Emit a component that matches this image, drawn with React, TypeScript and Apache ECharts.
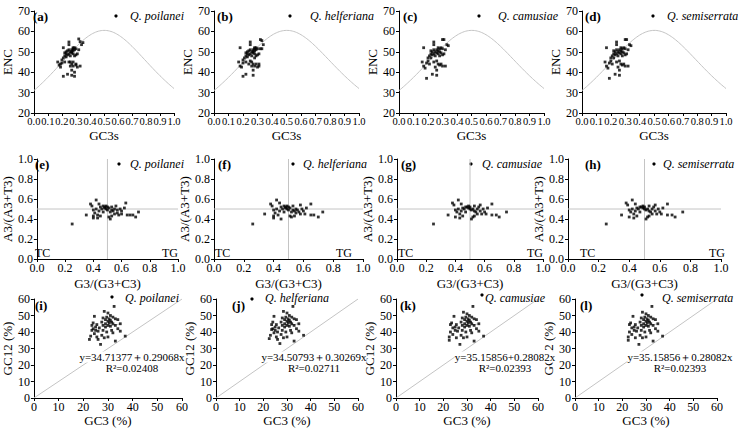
import React, { useEffect, useRef } from "react";
import * as echarts from "echarts";

// ---------------- data ----------------
const species = ["Q. poilanei", "Q. helferiana", "Q. camusiae", "Q. semiserrata"];
const encPanelTags = ["(a)", "(b)", "(c)", "(d)"];
const pr2PanelTags = ["(e)", "(f)", "(g)", "(h)"];
const neuPanelTags = ["(i)", "(j)", "(k)", "(l)"];

const encXTicks = [0, 0.1, 0.2, 0.3, 0.4, 0.5, 0.6, 0.7, 0.8, 0.9, 1.0];
const encYTicks = [20, 30, 40, 50, 60, 70];
const pr2Ticks = [0, 0.2, 0.4, 0.6, 0.8, 1.0];
const neuTicks = [0, 10, 20, 30, 40, 50, 60];

// ENC plot: [GC3s, ENC]
const encA = [
  [0.17, 45], [0.18, 43.5], [0.19, 44], [0.19, 42.5], [0.2, 46], [0.2, 44.5], [0.21, 52], [0.21, 47], [0.21, 38],
  [0.22, 45], [0.22, 48], [0.22, 49.5], [0.23, 47.5], [0.23, 49], [0.23, 50], [0.24, 48.5], [0.24, 50.5], [0.24, 39],
  [0.25, 54.8], [0.25, 53.5], [0.25, 49], [0.25, 51], [0.25, 45], [0.26, 50], [0.26, 48], [0.26, 45], [0.26, 43],
  [0.27, 49.5], [0.27, 51], [0.27, 50], [0.27, 44], [0.27, 41], [0.27, 38.5], [0.28, 51.5], [0.28, 50.5], [0.28, 49],
  [0.28, 52], [0.28, 45], [0.28, 43], [0.29, 51], [0.29, 52], [0.29, 48], [0.29, 40], [0.29, 38], [0.3, 51.5],
  [0.3, 48.5], [0.3, 44], [0.3, 43.5], [0.31, 49], [0.31, 42.5], [0.32, 56.3], [0.32, 51], [0.33, 55], [0.33, 43],
  [0.34, 53.5], [0.35, 54.5],
];
const encB = [
  [0.17, 45], [0.18, 43], [0.18, 52], [0.19, 42.5], [0.2, 46], [0.2, 44.5], [0.2, 38], [0.21, 47], [0.22, 39],
  [0.22, 45], [0.22, 48], [0.22, 49.5], [0.23, 47.5], [0.23, 49], [0.23, 50], [0.24, 48.5], [0.24, 50.5], [0.24, 44],
  [0.25, 54.8], [0.25, 53.5], [0.25, 49], [0.25, 51], [0.25, 45.5], [0.26, 50], [0.26, 48], [0.26, 45], [0.26, 43],
  [0.27, 49.5], [0.27, 51], [0.27, 50], [0.27, 44], [0.27, 41], [0.27, 38.5], [0.28, 51.5], [0.28, 50.5], [0.28, 49],
  [0.28, 52], [0.28, 47], [0.28, 43], [0.29, 51], [0.29, 52], [0.29, 48], [0.29, 44], [0.3, 42.5], [0.3, 51.5],
  [0.3, 48.5], [0.31, 44], [0.31, 43], [0.31, 49], [0.32, 51.5], [0.32, 56], [0.33, 55.5], [0.34, 53.5], [0.33, 51.5],
];
const encCD = [
  [0.16, 45], [0.17, 52], [0.17, 43], [0.18, 42], [0.19, 37], [0.19, 44.5], [0.2, 47], [0.2, 45.5], [0.21, 48],
  [0.21, 44], [0.22, 49], [0.22, 50.5], [0.22, 47], [0.23, 48.5], [0.23, 50], [0.23, 39], [0.24, 54.8], [0.24, 53.5],
  [0.24, 49], [0.24, 51], [0.24, 45], [0.25, 50], [0.25, 48], [0.25, 42.5], [0.26, 49.5], [0.26, 51], [0.26, 45.5],
  [0.26, 41], [0.26, 38.5], [0.27, 50.5], [0.27, 49], [0.27, 52], [0.27, 44], [0.28, 51.5], [0.28, 50], [0.28, 48],
  [0.28, 43.5], [0.29, 52], [0.29, 49.5], [0.29, 44], [0.3, 56], [0.3, 51.5], [0.3, 48.5], [0.3, 43], [0.31, 56],
  [0.31, 49], [0.32, 51], [0.32, 43], [0.33, 53.5], [0.34, 53],
];

// PR2 plot: [G3/(G3+C3), A3/(A3+T3)]
const pr2E = [
  [0.25, 0.35], [0.35, 0.44], [0.38, 0.55], [0.39, 0.53], [0.4, 0.49], [0.4, 0.43], [0.4, 0.41], [0.41, 0.46],
  [0.42, 0.59], [0.42, 0.5], [0.43, 0.44], [0.43, 0.41], [0.44, 0.55], [0.44, 0.48], [0.45, 0.52], [0.45, 0.43],
  [0.46, 0.5], [0.47, 0.53], [0.47, 0.47], [0.48, 0.52], [0.48, 0.51], [0.49, 0.53], [0.49, 0.5], [0.5, 0.52],
  [0.5, 0.49], [0.51, 0.51], [0.51, 0.42], [0.52, 0.4], [0.52, 0.47], [0.53, 0.52], [0.53, 0.49], [0.53, 0.43],
  [0.54, 0.48], [0.55, 0.5], [0.55, 0.45], [0.56, 0.53], [0.57, 0.49], [0.57, 0.46], [0.58, 0.44], [0.59, 0.5],
  [0.6, 0.48], [0.6, 0.45], [0.62, 0.51], [0.63, 0.56], [0.64, 0.44], [0.66, 0.44], [0.68, 0.44], [0.7, 0.42],
  [0.72, 0.47],
];
const pr2F = [
  [0.26, 0.35], [0.34, 0.45], [0.38, 0.55], [0.39, 0.53], [0.4, 0.49], [0.4, 0.43], [0.4, 0.41], [0.41, 0.46],
  [0.42, 0.59], [0.42, 0.5], [0.43, 0.44], [0.44, 0.56], [0.44, 0.48], [0.45, 0.52], [0.45, 0.4], [0.46, 0.5],
  [0.47, 0.53], [0.47, 0.47], [0.48, 0.52], [0.48, 0.51], [0.49, 0.53], [0.49, 0.5], [0.5, 0.52], [0.5, 0.49],
  [0.51, 0.51], [0.51, 0.43], [0.52, 0.42], [0.52, 0.47], [0.53, 0.53], [0.53, 0.49], [0.54, 0.43], [0.54, 0.48],
  [0.55, 0.5], [0.55, 0.46], [0.56, 0.49], [0.57, 0.47], [0.58, 0.54], [0.58, 0.45], [0.59, 0.5], [0.6, 0.48],
  [0.61, 0.45], [0.62, 0.51], [0.65, 0.55], [0.65, 0.44], [0.67, 0.44], [0.7, 0.42], [0.73, 0.47],
];
const pr2GH = [
  [0.25, 0.35], [0.35, 0.44], [0.38, 0.56], [0.39, 0.54], [0.4, 0.49], [0.4, 0.42], [0.41, 0.47], [0.42, 0.59],
  [0.42, 0.5], [0.43, 0.41], [0.43, 0.45], [0.44, 0.55], [0.44, 0.48], [0.45, 0.51], [0.45, 0.43], [0.46, 0.5],
  [0.47, 0.52], [0.47, 0.47], [0.48, 0.52], [0.49, 0.51], [0.49, 0.53], [0.5, 0.5], [0.5, 0.52], [0.51, 0.49],
  [0.51, 0.4], [0.52, 0.42], [0.52, 0.5], [0.53, 0.53], [0.53, 0.48], [0.53, 0.43], [0.54, 0.47], [0.55, 0.5],
  [0.55, 0.45], [0.56, 0.52], [0.57, 0.48], [0.57, 0.54], [0.58, 0.45], [0.59, 0.5], [0.6, 0.47], [0.61, 0.45],
  [0.62, 0.51], [0.65, 0.55], [0.65, 0.44], [0.68, 0.44], [0.7, 0.42], [0.75, 0.47],
];

// Neutrality plot: [GC3 (%), GC12 (%)]
const neuI = [
  [22.5, 35.5], [23, 37.5], [23.5, 41], [23.5, 44], [24, 45.5], [24, 42], [24.5, 39], [24.5, 49.5], [25, 43], [25, 41],
  [25.5, 44.5], [25.5, 37], [26, 40.5], [26, 35.5], [26.5, 42.5], [27, 32.5], [27.5, 46], [27.5, 38], [28, 48.5],
  [28, 44], [28, 41], [28.5, 52.5], [28.5, 36.5], [29, 47.5], [29, 45], [29, 43], [29.5, 49], [29.5, 40], [30, 51.5],
  [30, 46.5], [30, 44], [30, 37], [30.5, 48], [30.5, 45.5], [31, 50], [31, 47], [31, 43.5], [31.5, 46], [31.5, 41],
  [32, 49], [32, 45], [32, 39.5], [32.5, 55.5], [33, 48], [33, 44], [33, 34.5], [33.5, 61.5], [34, 47.5], [34, 42],
  [35, 45], [35, 40.5], [37, 37.5],
];
const neuJ = [
  [22.5, 36], [23, 38], [23.5, 41.5], [23.5, 44.5], [24, 46], [24, 42], [24.5, 39.5], [24.5, 49.5], [25, 43],
  [25, 41], [25.5, 44.5], [25.5, 37], [26, 40], [26, 35.5], [26.5, 42.5], [27, 33], [27.5, 46], [27.5, 38.5],
  [28, 48.5], [28, 44], [28, 41], [28.5, 52.5], [28.5, 36.5], [29, 47.5], [29, 45], [29, 43], [29.5, 49], [29.5, 40],
  [30, 51.5], [30, 46.5], [30, 44], [30, 37], [30.5, 48], [30.5, 45.5], [31, 50], [31, 47], [31, 43.5], [31.5, 46],
  [31.5, 41], [32, 49], [32, 45], [32, 39.5], [32.5, 55.5], [33, 48], [33, 44], [33, 34.5], [34, 47.5], [34, 42],
  [35, 45], [35, 40.5], [37, 38],
];
const neuKL = [
  [22.5, 35], [22.5, 37], [23, 40], [23, 44.5], [23.5, 45.5], [24, 42.5], [24, 38.5], [24.5, 49.5], [25, 43],
  [25, 41], [25.5, 44.5], [25.5, 36.5], [26, 40.5], [26.5, 42.5], [27, 32.5], [27.5, 46], [27.5, 38], [28, 48.5],
  [28, 44], [28, 41], [28.5, 52], [28.5, 36.5], [29, 47.5], [29, 45], [29, 43], [29.5, 49], [29.5, 40], [30, 51],
  [30, 46.5], [30, 44], [30, 37], [30.5, 48], [30.5, 45.5], [31, 50], [31, 47], [31, 43.5], [31.5, 46], [31.5, 41],
  [32, 49], [32, 45], [32, 39.5], [32.5, 55.5], [33, 48], [33, 44], [33, 34.5], [34, 47.5], [34, 42], [35, 45],
  [35, 40.5], [37, 37.5],
];

const regIntercepts = [34.71377, 34.50793, 35.15856, 35.15856];
const regSlopes = [0.29068, 0.30269, 0.28082, 0.28082];
const regEquations = [
  "y=34.71377\uFF0B0.29068x",
  "y=34.50793\uFF0B0.30269x",
  "y=35.15856+0.28082x",
  "y=35.15856\uFF0B0.28082x",
];
const regR2 = ["R\u00B2=0.02408", "R\u00B2=0.02711", "R\u00B2=0.02393", "R\u00B2=0.02393"];
const regXRange = [29, 35];

const encData = [encA, encB, encCD, encCD];
const pr2Data = [pr2E, pr2F, pr2GH, pr2GH];
const neuData = [neuI, neuJ, neuKL, neuKL];

// theoretical expected ENC curve: ENC = 2 + s + 29 / (s^2 + (1 - s)^2)
const expectedENC = (s: number) => 2 + s + 29 / (s * s + (1 - s) * (1 - s));

// ---------------- layout ----------------
const FONT = "Liberation Serif";
const LINE_GRAY = "#c4c4c4";

const row1 = { top: 11, height: 102, lefts: [29, 214, 399, 582], widths: [145, 145, 145, 144] };
const row2 = { top: 159, height: 100, lefts: [29, 214, 397, 568], widths: [149, 149, 146, 153] };
const row3 = { top: 299, height: 99, lefts: [30, 216, 396, 575], widths: [152, 142, 142, 142] };

const row1Tag = [4, 3, 4, 3];
const row1Dot = [87, 76, 80, 71];
const row1Text = [101, 96, 99, 85];
const row2Tag = [6, 4, 4, 17];
const row2Dot = [90, 79, 74, 86];
const row2Text = [101, 89, 85, 95];
const row2TC = [35, 215, 398, 580];
const row2TG = [178, 352, 543, 725];
const row3Tag = [5, 16, 4, 5];
const row3Text = [95, 49, 89, 87];
const row3Dot = [[112, 297], [252, 299], [482, 295], [642, 295]];
const row3Eq = [102, 98, 109, 105];

function buildOption() {
  const grid: any[] = [];
  const xAxis: any[] = [];
  const yAxis: any[] = [];
  const series: any[] = [];
  const graphic: any[] = [];

  const axisBase = (extra: any) => ({
    type: "value",
    nameLocation: "middle",
    axisLine: { show: true, onZero: false, lineStyle: { color: "#000", width: 1 } },
    axisTick: { show: true, length: 3, lineStyle: { color: "#000" } },
    splitLine: { show: false },
    nameTextStyle: { color: "#000", fontFamily: FONT, fontSize: 13 },
    ...extra,
    axisLabel: {
      color: "#000", fontFamily: FONT, fontSize: 12, showMinLabel: true, showMaxLabel: true,
      hideOverlap: false, ...(extra.axisLabel || {}),
    },
  });

  const txt = (x: number, y: number, text: string, opts: any = {}) => ({
    type: "text",
    x,
    y,
    silent: true,
    z: 10,
    style: {
      text,
      fill: "#000",
      fontFamily: FONT,
      fontSize: 12,
      verticalAlign: "middle",
      align: "left",
      ...opts,
    },
  });

  const scatter = (idx: number, data: number[][]) => ({
    type: "scatter",
    xAxisIndex: idx,
    yAxisIndex: idx,
    data,
    symbol: "rect",
    symbolSize: 2.8,
    itemStyle: { color: "#000" },
    z: 5,
    silent: true,
  });

  const refLine = (idx: number, data: number[][]) => ({
    type: "line",
    xAxisIndex: idx,
    yAxisIndex: idx,
    data,
    symbol: "none",
    lineStyle: { color: LINE_GRAY, width: 1 },
    z: 2,
    silent: true,
  });

  let idx = 0;
  // Row 1: ENC plots
  for (let p = 0; p < 4; p++) {
    const left = row1.lefts[p];
    grid.push({ left, top: row1.top, width: row1.widths[p], height: row1.height });
    xAxis.push(
      axisBase({
        gridIndex: idx, min: encXTicks[0], max: encXTicks[encXTicks.length - 1], interval: 0.1,
        name: "GC3s", nameGap: 16,
        axisLabel: { fontSize: 10.5, margin: 3, formatter: (v: number) => v.toFixed(1) },
      })
    );
    yAxis.push(
      axisBase({
        gridIndex: idx, min: encYTicks[0], max: encYTicks[encYTicks.length - 1], interval: 10,
        name: "ENC", nameGap: 15, axisLabel: { margin: 4 },
      })
    );
    const curve: number[][] = [];
    for (let i = 0; i <= 100; i++) {
      const s = i / 100;
      curve.push([s, expectedENC(s)]);
    }
    series.push(refLine(idx, curve));
    series.push(scatter(idx, encData[p]));
    graphic.push(txt(left + row1Tag[p], 16, encPanelTags[p], { fontWeight: "bold", fontSize: 13 }));
    graphic.push({ type: "circle", silent: true, shape: { cx: left + row1Dot[p], cy: 16, r: 1.6 }, style: { fill: "#000" } });
    graphic.push(txt(left + row1Text[p], 16, species[p], { fontStyle: "italic" }));
    idx++;
  }
  // Row 2: PR2 plots
  for (let p = 0; p < 4; p++) {
    const left = row2.lefts[p];
    grid.push({ left, top: row2.top, width: row2.widths[p], height: row2.height });
    xAxis.push(
      axisBase({
        gridIndex: idx, min: pr2Ticks[0], max: pr2Ticks[pr2Ticks.length - 1], interval: 0.2,
        name: "G3/(G3+C3)", nameGap: 18,
        axisLabel: { margin: 3, formatter: (v: number) => v.toFixed(1) },
      })
    );
    yAxis.push(
      axisBase({
        gridIndex: idx, min: pr2Ticks[0], max: pr2Ticks[pr2Ticks.length - 1], interval: 0.2,
        name: "A3/(A3+T3)", nameGap: 14,
        axisLabel: { margin: 4, formatter: (v: number) => v.toFixed(1) },
      })
    );
    series.push(refLine(idx, [[0, 0.5], [1, 0.5]]));
    series.push(refLine(idx, [[0.5, 0], [0.5, 1]]));
    series.push(scatter(idx, pr2Data[p]));
    graphic.push(txt(left + row2Tag[p], 164, pr2PanelTags[p], { fontWeight: "bold", fontSize: 13 }));
    graphic.push({ type: "circle", silent: true, shape: { cx: left + row2Dot[p], cy: 164, r: 1.6 }, style: { fill: "#000" } });
    graphic.push(txt(left + row2Text[p], 164, species[p], { fontStyle: "italic" }));
    graphic.push(txt(row2TC[p], 259, "TC", { verticalAlign: "bottom" }));
    graphic.push(txt(row2TG[p], 259, "TG", { verticalAlign: "bottom", align: "right" }));
    idx++;
  }
  // Row 3: neutrality plots
  for (let p = 0; p < 4; p++) {
    const left = row3.lefts[p];
    grid.push({ left, top: row3.top, width: row3.widths[p], height: row3.height });
    xAxis.push(
      axisBase({
        gridIndex: idx, min: neuTicks[0], max: neuTicks[neuTicks.length - 1], interval: 10,
        name: "GC3 (%)", nameGap: 16, axisLabel: { margin: 3 },
      })
    );
    yAxis.push(
      axisBase({
        gridIndex: idx, min: neuTicks[0], max: neuTicks[neuTicks.length - 1], interval: 10,
        name: "GC12 (%)", nameGap: 13, axisLabel: { margin: 4 },
      })
    );
    series.push(refLine(idx, [[0, 0], [60, 60]]));
    series.push(refLine(idx, regXRange.map((x) => [x, regIntercepts[p] + regSlopes[p] * x])));
    series.push(scatter(idx, neuData[p]));
    graphic.push(txt(left + row3Tag[p], 305, neuPanelTags[p], { fontWeight: "bold", fontSize: 13 }));
    graphic.push({ type: "circle", silent: true, shape: { cx: row3Dot[p][0], cy: row3Dot[p][1], r: 1.6 }, style: { fill: "#000" } });
    graphic.push(txt(left + row3Text[p], 298, species[p], { fontStyle: "italic" }));
    graphic.push(txt(left + row3Eq[p], 357, regEquations[p], { align: "center", fontSize: 11, backgroundColor: "#fff" }));
    graphic.push(txt(left + row3Eq[p], 368, regR2[p], { align: "center", fontSize: 11 }));
    idx++;
  }

  return {
    animation: false,
    backgroundColor: "#fff",
    textStyle: { fontFamily: FONT },
    grid,
    xAxis,
    yAxis,
    series,
    graphic,
  };
}

export default function App() {
  const ref = useRef<HTMLDivElement>(null);
  useEffect(() => {
    document.body.style.margin = "0";
    const chart = echarts.init(ref.current as HTMLDivElement, null, { renderer: "svg" });
    chart.setOption(buildOption() as any);
    return () => chart.dispose();
  }, []);
  return <div ref={ref} style={{ width: 738, height: 430 }} />;
}
